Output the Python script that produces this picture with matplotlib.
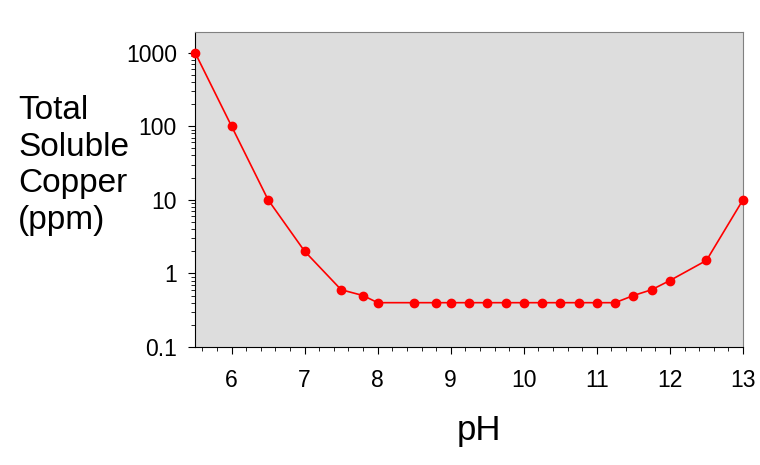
import numpy as np
import matplotlib
matplotlib.use("Agg")
import matplotlib.pyplot as plt
from matplotlib.ticker import LogLocator, FixedLocator, NullFormatter

plt.rcParams["font.family"] = ["Liberation Sans", "DejaVu Sans"]

# copper solubility vs pH
ph = [5.5, 6.0, 6.5, 7.0, 7.5, 7.8, 8.0, 8.5, 8.8, 9.0, 9.25, 9.5, 9.75,
      10.0, 10.25, 10.5, 10.75, 11.0, 11.25, 11.5, 11.75, 12.0, 12.5, 13.0]
copper = [1000, 100, 10, 2.0, 0.6, 0.5, 0.4, 0.4, 0.4, 0.4, 0.4, 0.4, 0.4,
          0.4, 0.4, 0.4, 0.4, 0.4, 0.4, 0.5, 0.6, 0.8, 1.5, 10]

x_ticks = [6, 7, 8, 9, 10, 11, 12, 13]
y_ticks = [0.1, 1, 10, 100, 1000]
y_tick_labels = ["0.1", "1", "10", "100", "1000"]

fig = plt.figure(figsize=(7.6, 4.65), dpi=100)
ax = fig.add_axes([195 / 760, 1 - 347 / 465, (743 - 195) / 760, (347 - 32) / 465])
ax.set_facecolor("#dddddd")

ax.plot(ph, copper, color="#ff0000", lw=1.2, marker="o", markersize=6,
        clip_on=False, zorder=3)

ax.set_yscale("log")
ax.set_xlim(5.5, 13)
ax.set_ylim(0.1, 1900)

ax.set_xticks(x_ticks)
ax.set_xticklabels([str(t) for t in x_ticks])
ax.xaxis.set_minor_locator(FixedLocator(np.arange(5.6, 13.01, 0.2)))
ax.set_yticks(y_ticks)
ax.set_yticklabels(y_tick_labels)
ax.yaxis.set_minor_locator(LogLocator(base=10, subs=np.arange(2, 10)))
ax.yaxis.set_minor_formatter(NullFormatter())

ax.tick_params(axis="x", which="major", length=5, width=0.8, pad=11, labelsize=16.5)
ax.tick_params(axis="y", which="major", length=5, width=0.8, pad=8, labelsize=16.5)
ax.tick_params(which="minor", length=3, width=0.6)

for side in ["top", "right"]:
    ax.spines[side].set_color("#808080")
for side in ["left", "bottom"]:
    ax.spines[side].set_color("black")

fig.text(18 / 760, 1 - 95 / 465, "Total\nSoluble\nCopper\n(ppm)",
         fontsize=24, ha="left", va="top", linespacing=1.23)
fig.text(479 / 760, 1 - 430 / 465, "pH", fontsize=25, ha="center", va="center")

fig.savefig("out.png", dpi=100, facecolor="white")
